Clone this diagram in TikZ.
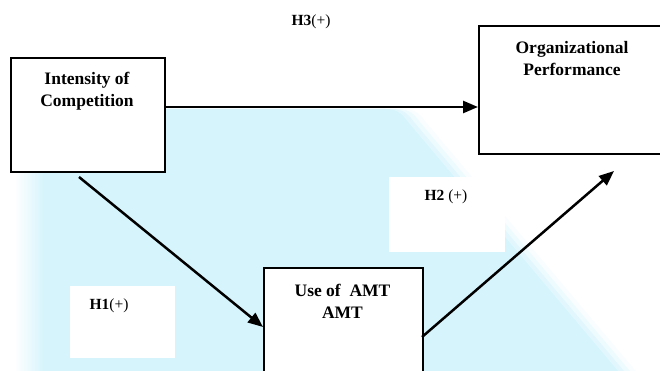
\documentclass[tikz,border=0pt]{standalone}
\usepackage{fontspec}
\setmainfont{Liberation Serif}
\usetikzlibrary{arrows.meta,calc}
\definecolor{wcyan}{RGB}{214,244,252}
\tikzset{
  boxshape/.style={draw=black, line width=1.6pt, fill=white, anchor=north west, inner sep=0pt},
  boxtext/.style={font=\fontsize{17.5}{22}\selectfont\bfseries, align=center, inner sep=0pt},
  hlabel/.style={font=\fontsize{15.5}{18}\selectfont, inner sep=0pt},
  whitepad/.style={fill=white, anchor=north west, inner sep=0pt},
  arr/.style={line width=2.5pt, -{Triangle[length=15pt,width=12pt]}}
}
\begin{document}
\begin{tikzpicture}[x=1pt,y=-1pt]
\useasboundingbox (0,0) rectangle (660,371);
\clip (0,0) rectangle (660,371);
% background watermark with soft diagonal edge
\foreach \d/\o in {18/0.15,12/0.3,6/0.55}{
  \fill[wcyan, opacity=\o] (42,109) -- ({385+\d},109) .. controls ({398+\d},109) and ({402+\d},114) .. ({408+\d},122) -- ({618+\d},371) -- (42,371) -- cycle;
}
\fill[wcyan] (42,109) -- (385,109) .. controls (398,109) and (402,114) .. (408,122) -- (618,371) -- (42,371) -- cycle;
\shade[left color=white, right color=wcyan] (14,109) rectangle (44,371);
% white pads
\node[whitepad, minimum width=105pt, minimum height=72pt] (p1) at (70,286) {};
\node[whitepad, minimum width=116pt, minimum height=75pt] (p2) at (389,177) {};
% boxes
\node[boxshape, minimum width=154pt, minimum height=114pt] (ic) at (10,57) {};
\node[boxshape, minimum width=190pt, minimum height=128pt] (op) at (478,25) {};
\node[boxshape, minimum width=159pt, minimum height=120pt] (amt) at (263,267) {};
% box texts
\node[boxtext] (ict) at (87,91) {Intensity of\\Competition};
\node[boxtext] (opt) at (572,58.5) {Organizational\\Performance};
\node[boxtext] (amtt) at (342.5,301) {Use of~~AMT\\AMT};
% labels
\node[hlabel] (h3) at (311,22) {\textbf{H3}(+)};
\node[hlabel] (h1) at (109,306) {\textbf{H1}(+)};
\node[hlabel] (h2) at (446,197) {\textbf{H2} (+)};
% connectors
\coordinate (a3) at (164,107);
\draw[arr] (a3) -- (a3 -| op.west);
\coordinate (h1s) at (79,177);
\coordinate (h1e) at (263,327);
\draw[arr] (h1s) -- (h1e);
\coordinate (h2s) at (422,337);
\coordinate (h2e) at (614,171);
\draw[arr] (h2s) -- (h2e);
\end{tikzpicture}
\end{document}
